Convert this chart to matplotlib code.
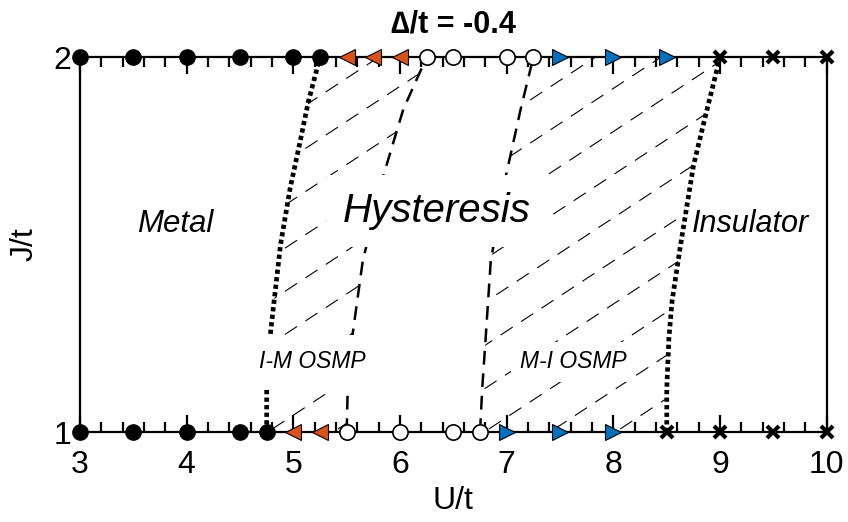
import numpy as np
import matplotlib
matplotlib.use('Agg')
import matplotlib.pyplot as plt
from matplotlib.patches import Polygon
from matplotlib.ticker import MultipleLocator

plt.rcParams['font.family'] = ['Liberation Sans', 'DejaVu Sans']

# points at J/t = 1
metal_U1 = [3.0, 3.5, 4.0, 4.5, 4.75]
im_U1 = [5.0, 5.25]
hyst_U1 = [5.5, 6.0, 6.5, 6.75]
mi_U1 = [7.0, 7.5, 8.0]
ins_U1 = [8.5, 9.0, 9.5, 10.0]

# points at J/t = 2
metal_U2 = [3.0, 3.5, 4.0, 4.5, 5.0, 5.25]
im_U2 = [5.5, 5.75, 6.0]
hyst_U2 = [6.25, 6.5, 7.0, 7.25]
mi_U2 = [7.5, 8.0, 8.5]
ins_U2 = [9.0, 9.5, 10.0]

# phase boundaries
left_dot_J = [1.0, 1.12, 1.25, 1.5, 1.65, 1.77, 1.88, 2.0]
left_dot_U = [4.75, 4.75, 4.78, 4.88, 4.97, 5.06, 5.14, 5.25]
left_dash_J = [1.0, 1.125, 1.25, 1.455, 1.68, 1.86, 2.0]
left_dash_U = [5.5, 5.51, 5.55, 5.65, 5.84, 6.03, 6.25]
right_dash_J = [1.0, 1.115, 1.24, 1.455, 1.68, 1.86, 2.0]
right_dash_U = [6.75, 6.77, 6.80, 6.85, 6.99, 7.13, 7.25]
right_dot_J = [1.0, 1.115, 1.25, 1.35, 1.5, 1.71, 1.84, 2.0]
right_dot_U = [8.5, 8.5, 8.52, 8.55, 8.63, 8.75, 8.86, 9.0]

orange = '#D95319'
blue = '#0072BD'

fig = plt.figure(figsize=(8.48, 5.22), dpi=100)
ax = fig.add_axes([0.0943, 0.1724, 0.8807, 0.7184])
ax.set_xlim(3, 10)
ax.set_ylim(1, 2)


def hatch_region(xa, ya, xb, yb, c0):
    pts = np.column_stack([np.r_[xa, xb[::-1]], np.r_[ya, yb[::-1]]])
    patch = Polygon(pts, closed=True, facecolor='none', edgecolor='none')
    ax.add_patch(patch)
    slope = 0.187
    uu = np.array([2.0, 11.0])
    for c in np.arange(c0 - 12 * 0.615, c0 + 12 * 0.615, 0.615):
        ln, = ax.plot(uu, 1 + slope * (uu - c), color='black', lw=0.8,
                      ls=(0, (13, 9)), zorder=1)
        ln.set_clip_path(patch)


hatch_region(left_dot_U, left_dot_J, left_dash_U, left_dash_J, 0.455)
hatch_region(right_dash_U, right_dash_J, right_dot_U, right_dot_J, 3.1)

dot = dict(color='black', lw=3.4, ls=(0, (0.9, 0.7)), zorder=2,
           dash_capstyle='butt', clip_on=False)
dash = dict(color='black', lw=1.8, ls=(0, (5.5, 3.5)), zorder=2,
            dash_capstyle='butt', clip_on=False)
ax.plot(left_dot_U, left_dot_J, **dot)
ax.plot(right_dot_U, right_dot_J, **dot)
ax.plot(left_dash_U, left_dash_J, **dash)
ax.plot(right_dash_U, right_dash_J, **dash)

box = dict(facecolor='white', edgecolor='none', pad=12)
ax.text(6.34, 1.56, 'Hysteresis', fontsize=29, style='italic',
        ha='center', va='baseline', bbox=box, zorder=3)
ax.text(5.18, 1.17, 'I-M OSMP', fontsize=16.5, style='italic',
        ha='center', va='baseline', bbox=dict(facecolor='white', edgecolor='none', pad=11), zorder=3)
ax.text(7.62, 1.17, 'M-I OSMP', fontsize=16.5, style='italic',
        ha='center', va='baseline', bbox=dict(facecolor='white', edgecolor='none', pad=6), zorder=3)
ax.text(3.89, 1.533, 'Metal', fontsize=22.5, style='italic',
        ha='center', va='baseline', zorder=3)
ax.text(9.285, 1.533, 'Insulator', fontsize=22, style='italic',
        ha='center', va='baseline', zorder=3)

for J, (a, b, c, d, e) in [(1, (metal_U1, im_U1, hyst_U1, mi_U1, ins_U1)),
                           (2, (metal_U2, im_U2, hyst_U2, mi_U2, ins_U2))]:
    ax.plot(a, [J] * len(a), 'o', ms=11, color='black', zorder=5, clip_on=False)
    ax.plot(b, [J] * len(b), '<', ms=12, mfc=orange, mec='black', mew=0.8,
            zorder=5, clip_on=False)
    ax.plot(c, [J] * len(c), 'o', ms=11, mfc='white', mec='black', mew=1.2,
            zorder=5, clip_on=False)
    ax.plot(d, [J] * len(d), '>', ms=12, mfc=blue, mec='black', mew=0.8,
            zorder=5, clip_on=False)
    ax.plot(e, [J] * len(e), 'x', ms=8.5, color='black', mew=3,
            zorder=5, clip_on=False)

for s in ax.spines.values():
    s.set_linewidth(1.6)
ax.set_xticks(range(3, 11))
ax.xaxis.set_minor_locator(MultipleLocator(0.2))
ax.set_yticks([1, 2])
ax.tick_params(axis='x', which='major', direction='in', top=True, bottom=True,
               length=12, width=1.6, labelsize=23, pad=13)
ax.tick_params(axis='x', which='minor', direction='in', top=True, bottom=True,
               length=7, width=1.6)
ax.tick_params(axis='y', which='both', direction='in', left=True, right=True,
               length=0, labelsize=23, pad=6)

ax.set_xlabel('U/t', fontsize=23, labelpad=4)
ax.set_ylabel('J/t', fontsize=23, labelpad=10)
ax.set_title('\u2206/t = -0.4', fontsize=22, fontweight='bold', pad=18)

fig.savefig('out.png', dpi=100)
